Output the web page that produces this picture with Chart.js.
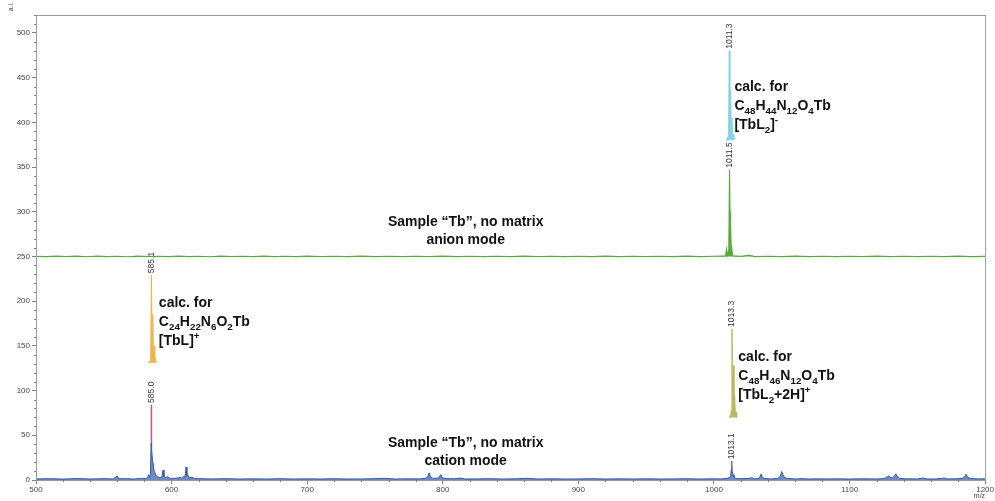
<!DOCTYPE html>
<html lang="en">
<head>
  <meta charset="UTF-8">
  <title>MALDI spectrum, sample Tb</title>
  <script src="https://cdn.jsdelivr.net/npm/chart.js"></script>
  <style>
    body { margin: 0; background: #fff; }
    .chart-container { position: relative; width: 995px; height: 501px; }
  </style>
</head>
<body>
  <div class="chart-container">
    <canvas id="specChart"></canvas>
  </div>

  <script>
    // measured cation-mode spectrum [m/z, a.i.]
    const cationSpectrum = [
      [500,1.2],[510,1.5],[520,1.0],[530,1.6],[540,1.1],[550,1.5],[557,1.2],[559,3.5],[560,4.5],[561,1.4],
      [566,1.5],[572,1.1],[578,1.8],[581,1.5],[582.4,3],[583.2,6],[583.8,3],[584.4,6],[584.9,41],[585.0,84],
      [585.5,35],[585.9,22],[586.5,18],[587.1,10],[587.8,8],[588.6,5],[589.5,4],[590.5,2.5],[592.2,2.5],[593.1,5],
      [593.7,11],[594.4,4],[596,2.5],[597.2,4],[598,2],[600,1.8],[603,2],[605.5,2.5],[606.3,3.5],[607.2,2],
      [608.8,4],[609.6,3],[610.2,7],[610.7,14.5],[611.3,5],[612.3,5],[613.2,2.5],[615,3],[617,1.8],[620,1.5],
      [630,1.2],[640,1.5],[650,1.1],[660,1.3],[670,1.1],[680,1.4],[690,1.1],[700,1.3],[710,1.1],[720,1.4],
      [730,1.1],[740,1.2],[750,1.5],[757,1.9],[765,1.1],[775,1.3],[783,1.2],[787,1.8],[789,4],[790,8],
      [791,3],[793,1.8],[797,2.2],[798.5,6],[799.5,3],[801,1.8],[808,1.3],[813,2.2],[816,1.2],[825,1.2],
      [835,1.4],[845,1.1],[855,1.3],[862,1.9],[870,1.1],[880,1.3],[890,1.1],[900,1.2],[910,1.4],[920,1.1],
      [930,1.3],[940,1.1],[950,1.3],[960,1.1],[970,1.2],[980,1.4],[990,1.1],[1000,1.3],[1005,1.2],[1009,1.6],
      [1011.2,2.5],[1012.3,4],[1012.8,12],[1013.1,21],[1013.5,9],[1014.1,6],[1014.8,3],[1016,2],[1017.2,1.6],
      [1020,1.5],[1025,1.7],[1028,2.6],[1030,1.3],[1033.5,1.8],[1034.7,6.5],[1035.5,3.5],[1037,1.8],[1042,1.2],[1047,1.8],
      [1049,4],[1050,9.5],[1050.8,6],[1052,3],[1054,1.8],[1060,1.2],[1065,1.5],[1070,1.1],[1078,1.3],[1085,1.2],
      [1090,1.3],[1100,1.1],[1110,1.3],[1120,1.2],[1125,1.5],[1127.5,3],[1129,4.5],[1130,3],[1132,2.2],[1133.3,5],
      [1134.2,7],[1135,4],[1137,1.8],[1142,1.3],[1150,1.2],[1154,2.2],[1157,1.2],[1163,1.1],[1168,1.8],[1170,2.2],
      [1172,1.2],[1178,1.3],[1183,1.8],[1185.2,4],[1186,6.5],[1187,3.5],[1189,1.8],[1195,1.2],[1200,1.3]
    ];

    // measured anion-mode spectrum, drawn with a +250 offset
    const anionSpectrum = [
      [500,250.1],[508,249.8],[515,250.4],[522,249.9],[530,250.3],[538,249.7],[545,250.3],[552,249.8],[560,250.2],[568,249.7],
      [575,250.4],[583,249.9],[590,250.2],[598,249.8],[605,250.3],[613,249.8],[620,250.2],[628,249.7],[636,250.3],[644,249.9],
      [652,250.2],[660,249.8],[668,250.3],[676,249.8],[684,250.2],[692,249.8],[700,250.3],[710,249.9],[720,250.2],[730,249.8],
      [740,250.3],[750,249.8],[760,250.2],[770,249.8],[780,250.2],[790,249.9],[800,250.3],[810,249.8],[820,250.2],[830,249.8],
      [840,250.2],[850,249.8],[860,250.3],[870,249.9],[880,250.2],[890,249.8],[900,250.2],[910,249.8],[920,250.3],[930,249.8],
      [940,250.2],[950,249.9],[960,250.2],[970,249.8],[980,250.3],[990,249.8],[1000,250.2],[1005,250.4],[1008.5,250.3],[1009.3,258],
      [1009.8,251],[1010.6,256],[1011.0,262],[1011.5,347],[1011.9,300],[1012.3,289],[1012.7,262],[1013.1,260],[1013.6,252],[1014.5,250.5],
      [1017,250.4],[1020,250.1],[1024,251],[1026,251.5],[1028,250.6],[1030,249.8],[1040,250.2],[1050,249.8],[1060,250.3],[1070,249.8],
      [1080,250.2],[1090,249.8],[1100,250.2],[1110,249.9],[1120,250.3],[1130,249.8],[1140,250.2],[1150,249.8],[1160,250.2],[1170,249.8],
      [1180,250.3],[1190,249.8],[1200,250.1]
    ];

    // calculated isotope patterns, each floating on its own base level
    const calcAnion = [
      [1009.3,380],[1009.8,383],[1010.3,380],[1010.8,392],[1011.3,480],[1011.8,395],
      [1012.3,436],[1012.8,390],[1013.3,405],[1013.8,382],[1014.3,386],[1014.8,380]
    ];
    const calcTbL = [
      [583.1,131],[583.6,133],[584.1,131],[584.6,138],[585.1,229],[585.6,150],
      [586.1,185],[586.6,142],[587.1,150],[587.6,133],[588.1,135],[588.6,131]
    ];
    const calcTbL2H = [
      [1011.3,70],[1011.8,72],[1012.3,70],[1012.8,78],[1013.3,169],[1013.8,85],
      [1014.3,128],[1014.8,80],[1015.3,95],[1015.8,73],[1016.3,76],[1016.8,70]
    ];
    const calcBases = [380, 131, 70];

    // labelled peaks
    const peakMz    = [1011.3, 1011.5, 585.1, 585.0, 1013.3, 1013.1];
    const peakInt   = [480, 347, 229, 84, 169, 21];
    const peakTexts = ['1011.3', '1011.5', '585.1', '585.0', '1013.3', '1013.1'];
    // red apex of the labelled cation peaks
    const apex585  = [[585.0, 41], [585.0, 84]];
    const apex1013 = [[1013.1, 12], [1013.1, 21]];

    const xTicks = [500, 600, 700, 800, 900, 1000, 1100, 1200];
    const yTicks = [0, 50, 100, 150, 200, 250, 300, 350, 400, 450, 500];

    const calcNotes = [
      { mz: 1015.1, ai: 439.6, lines: ['calc. for', 'C_{48}H_{44}N_{12}O_{4}Tb', '[TbL_{2}]^{-}'] },
      { mz: 590.6,  ai: 198,   lines: ['calc. for', 'C_{24}H_{22}N_{6}O_{2}Tb', '[TbL]^{+}'] },
      { mz: 1018,   ai: 137.6, lines: ['calc. for', 'C_{48}H_{46}N_{12}O_{4}Tb', '[TbL_{2}+2H]^{+}'] }
    ];
    const modeNotes = [
      { mz: 816.9, ai: 288.6, lines: ['Sample \u201cTb\u201d, no matrix', 'anion mode'] },
      { mz: 816.9, ai: 41.4,  lines: ['Sample \u201cTb\u201d, no matrix', 'cation mode'] }
    ];

    const toXY = arr => arr.map(p => ({ x: p[0], y: p[1] }));
    const FONT = 'Arial, "Liberation Sans", sans-serif';

    // text with _{sub} and ^{sup} parts
    function drawRich(ctx, str, x, y, size) {
      const parts = str.split(/([_^]\{[^}]*\})/).filter(s => s.length);
      let cx = x;
      parts.forEach(p => {
        let txt = p, dy = 0, sz = size;
        if (p[0] === '_') { txt = p.slice(2, -1); dy = 5; sz = size * 0.7; }
        else if (p[0] === '^') { txt = p.slice(2, -1); dy = -5; sz = size * 0.7; }
        ctx.font = 'bold ' + sz + 'px ' + FONT;
        ctx.fillText(txt, cx, y + dy);
        cx += ctx.measureText(txt).width;
      });
    }

    const overlay = {
      id: 'overlay',
      afterDraw(chart) {
        const { ctx, chartArea: a, scales: { x, y } } = chart;
        ctx.save();
        // frame
        ctx.strokeStyle = '#9a9a9a';
        ctx.lineWidth = 1;
        ctx.strokeRect(a.left + 0.5, a.top + 0.5, a.right - a.left, a.bottom - a.top);
        // minor ticks
        ctx.strokeStyle = '#808080';
        ctx.beginPath();
        for (let v = 10; v <= 520; v += 10) {
          if (v % 50 === 0) continue;
          const py = Math.round(y.getPixelForValue(v)) + 0.5;
          ctx.moveTo(a.left - 2, py); ctx.lineTo(a.left, py);
        }
        for (let v = 520; v < 1200; v += 20) {
          if (v % 100 === 0) continue;
          const px = Math.round(x.getPixelForValue(v)) + 0.5;
          ctx.moveTo(px, a.bottom); ctx.lineTo(px, a.bottom + 2);
        }
        ctx.stroke();
        // axis titles
        ctx.fillStyle = '#444';
        ctx.font = '7px ' + FONT;
        ctx.textAlign = 'right';
        ctx.textBaseline = 'top';
        ctx.fillText('m/z', a.right, a.bottom + 13);
        ctx.save();
        ctx.translate(11, a.top - 13);
        ctx.rotate(-Math.PI / 2);
        ctx.textAlign = 'right';
        ctx.textBaseline = 'middle';
        ctx.fillText('a.i.', 0, 0);
        ctx.restore();
        // peak labels
        ctx.font = '8.5px ' + FONT;
        ctx.fillStyle = '#333';
        peakMz.forEach((mz, i) => {
          ctx.save();
          ctx.translate(x.getPixelForValue(mz), y.getPixelForValue(peakInt[i]) - 2);
          ctx.rotate(-Math.PI / 2);
          ctx.textAlign = 'left';
          ctx.textBaseline = 'middle';
          ctx.fillText(peakTexts[i], 0, 0);
          ctx.restore();
        });
        // mode titles
        ctx.fillStyle = '#111';
        ctx.font = 'bold 14px ' + FONT;
        ctx.textAlign = 'center';
        ctx.textBaseline = 'middle';
        modeNotes.forEach(n => {
          n.lines.forEach((t, k) => {
            ctx.fillText(t, x.getPixelForValue(n.mz), y.getPixelForValue(n.ai) + k * 18);
          });
        });
        // calculated-pattern notes
        ctx.textAlign = 'left';
        calcNotes.forEach(n => {
          n.lines.forEach((t, k) => {
            drawRich(ctx, t, x.getPixelForValue(n.mz), y.getPixelForValue(n.ai) + k * 19, 14);
          });
        });
        ctx.restore();
      }
    };

    const line = (data, color, fill, width) => ({
      data: toXY(data), borderColor: color, backgroundColor: color,
      borderWidth: width || 1, pointRadius: 0, tension: 0, fill: fill
    });

    const ctx = document.getElementById('specChart').getContext('2d');
    new Chart(ctx, {
      type: 'line',
      data: {
        datasets: [
          line(apex585, '#d8607c', false, 1.2),
          line(apex1013, '#d8607c', false, 1.2),
          line(calcAnion, '#86d4e2', { value: calcBases[0] }),
          line(calcTbL, '#f0b350', { value: calcBases[1] }),
          line(calcTbL2H, '#bdb85e', { value: calcBases[2] }),
          line(anionSpectrum, '#58a93c', { value: 250 }, 1.1),
          Object.assign(line(cationSpectrum, '#3558a8', 'origin'), { backgroundColor: 'rgba(53,88,168,0.7)' })
        ]
      },
      options: {
        responsive: true,
        maintainAspectRatio: false,
        animation: false,
        layout: { padding: { top: 15, right: 7, left: 0, bottom: 0 } },
        plugins: { legend: { display: false }, tooltip: { enabled: false } },
        scales: {
          x: {
            type: 'linear', min: 500, max: 1200,
            afterFit: s => { s.height = 21; },
            afterBuildTicks: s => { s.ticks = xTicks.map(v => ({ value: v })); },
            ticks: { font: { size: 8, family: FONT }, color: '#444', padding: 1, maxRotation: 0,
                     callback: v => String(v) },
            grid: { drawOnChartArea: false, tickLength: 4, color: '#808080' },
            border: { color: '#808080' }
          },
          y: {
            min: 0, max: 520,
            afterFit: s => { s.width = 36; },
            afterBuildTicks: s => { s.ticks = yTicks.map(v => ({ value: v })); },
            ticks: { font: { size: 8, family: FONT }, color: '#444', padding: 2 },
            grid: { drawOnChartArea: false, tickLength: 4, color: '#808080' },
            border: { color: '#808080' }
          }
        }
      },
      plugins: [overlay]
    });
  </script>
</body>
</html>
